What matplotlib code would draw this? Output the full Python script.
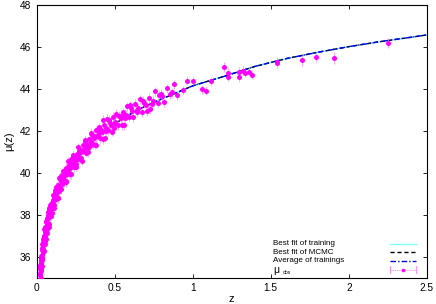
import matplotlib
matplotlib.use("Agg")
import matplotlib.pyplot as plt
from matplotlib.lines import Line2D

plt.rcParams['font.family'] = ['Liberation Sans', 'DejaVu Sans']

# ---- best-fit curves ----
z_fit = [0.01, 0.015, 0.02, 0.03, 0.05, 0.07, 0.1, 0.15, 0.2, 0.3, 0.4, 0.5,
         0.6, 0.7, 0.8, 0.9, 1.0, 1.2, 1.4, 1.6, 1.8, 2.0, 2.2, 2.4, 2.5]
mu_train = [33.35, 34.21, 34.85, 35.74, 36.89, 37.65, 38.45, 39.40, 40.08, 41.06, 41.78, 42.34,
            42.80, 43.19, 43.52, 43.83, 44.15, 44.60, 45.08, 45.45, 45.75, 46.02, 46.26, 46.47, 46.58]
mu_mcmc = [33.35, 34.21, 34.85, 35.74, 36.89, 37.65, 38.45, 39.40, 40.08, 41.06, 41.78, 42.34,
           42.80, 43.19, 43.52, 43.83, 44.15, 44.60, 45.08, 45.45, 45.75, 46.02, 46.26, 46.47, 46.58]
mu_avg = [33.35, 34.21, 34.85, 35.74, 36.89, 37.65, 38.45, 39.40, 40.08, 41.06, 41.78, 42.34,
          42.80, 43.19, 43.52, 43.83, 44.15, 44.60, 45.08, 45.45, 45.75, 46.02, 46.26, 46.47, 46.58]

# ---- observed distance moduli (dense low-z sample) ----
z_obs_a = [0.014, 0.016, 0.018, 0.019, 0.020, 0.021, 0.022, 0.023, 0.024, 0.025,
           0.026, 0.027, 0.028, 0.029, 0.030, 0.031, 0.032, 0.033, 0.034, 0.035,
           0.036, 0.037, 0.038, 0.040, 0.041, 0.042, 0.044, 0.045, 0.047, 0.048,
           0.050, 0.051, 0.053, 0.055, 0.056, 0.058, 0.060, 0.062, 0.064, 0.066,
           0.068, 0.070, 0.072, 0.074, 0.076, 0.078, 0.080, 0.083, 0.085, 0.088,
           0.090, 0.093, 0.096, 0.100, 0.103, 0.106, 0.110, 0.113, 0.116, 0.120,
           0.123, 0.127, 0.130, 0.134, 0.138, 0.142, 0.146, 0.150, 0.154, 0.158,
           0.162, 0.166, 0.170, 0.175, 0.180, 0.185, 0.190, 0.195, 0.200, 0.205,
           0.210, 0.215, 0.220, 0.226, 0.232, 0.238, 0.244, 0.250, 0.256, 0.262,
           0.268, 0.274, 0.280, 0.287, 0.294, 0.300, 0.307, 0.314, 0.321, 0.328,
           0.335, 0.342, 0.350, 0.358, 0.366, 0.374, 0.382, 0.390, 0.398, 0.406,
           0.415, 0.424, 0.433, 0.442, 0.451, 0.460, 0.470, 0.480, 0.490, 0.500,
           0.510, 0.520, 0.532, 0.544, 0.556, 0.568, 0.580, 0.592, 0.605, 0.618,
           0.632, 0.646, 0.660, 0.675, 0.690, 0.705, 0.720, 0.738, 0.756, 0.775,
           0.795, 0.815, 0.835, 0.856, 0.878, 0.900]
mu_obs_a = [34.44, 34.11, 34.69, 34.35, 35.10, 34.87, 35.48, 34.94, 35.39, 35.00,
            35.73, 35.48, 35.95, 35.41, 35.85, 35.43, 36.09, 35.84, 36.41, 35.92,
            36.32, 35.90, 36.55, 36.33, 36.82, 36.22, 36.68, 36.29, 36.97, 36.66,
            37.30, 36.73, 37.17, 36.78, 37.43, 37.18, 37.65, 37.13, 37.54, 37.13,
            37.82, 37.55, 38.14, 37.60, 37.97, 37.55, 38.27, 38.03, 38.45, 37.92,
            38.34, 37.94, 38.57, 38.33, 38.92, 38.42, 38.86, 38.44, 39.09, 38.84,
            39.33, 38.76, 39.17, 38.80, 39.44, 39.15, 39.77, 39.22, 39.63, 39.22,
            39.89, 39.62, 40.07, 39.55, 39.96, 39.54, 40.23, 39.95, 40.54, 39.99,
            40.35, 39.94, 40.66, 40.40, 40.83, 40.28, 40.71, 40.30, 40.92, 40.65,
            41.22, 40.72, 41.11, 40.69, 41.34, 41.05, 41.55, 40.95, 41.36, 40.97,
            41.61, 41.30, 41.91, 41.36, 41.77, 41.35, 42.02, 41.74, 42.18, 41.64,
            42.04, 41.61, 42.29, 42.00, 42.58, 42.02, 42.38, 41.96, 42.68, 42.40,
            42.82, 42.26, 42.67, 42.26, 42.88, 42.61, 43.18, 42.67, 43.07, 42.64,
            43.29, 43.00, 43.50, 42.90, 43.31, 42.94, 43.57, 43.28, 43.89, 43.35,
            43.76, 43.36, 44.03, 43.75, 44.22, 43.69]
z_obs_b = [0.0205, 0.0235, 0.0265, 0.0295, 0.0325, 0.039, 0.043, 0.046, 0.049, 0.052,
           0.057, 0.061, 0.065, 0.069, 0.075, 0.082, 0.087, 0.095, 0.102, 0.108,
           0.115, 0.125, 0.136, 0.148, 0.160, 0.172, 0.183, 0.198, 0.212, 0.229,
           0.247, 0.265, 0.284, 0.304, 0.325, 0.346, 0.370, 0.394, 0.420, 0.427,
           0.447, 0.475, 0.505, 0.538, 0.553, 0.575, 0.612, 0.652, 0.698, 0.745,
           0.805, 0.868]
mu_obs_b = [34.87, 35.23, 35.45, 35.70, 35.94, 36.32, 36.55, 36.71, 36.83, 37.00,
            37.18, 37.33, 37.48, 37.62, 37.83, 38.01, 38.15, 38.34, 38.51, 38.65,
            38.79, 39.01, 39.19, 39.39, 39.58, 39.75, 39.90, 40.08, 40.25, 40.45,
            40.63, 40.81, 40.97, 41.15, 41.31, 41.47, 41.65, 41.81, 41.97, 42.52,
            42.12, 42.28, 42.43, 42.60, 42.75, 42.77, 42.93, 43.09, 43.25, 43.45,
            43.65, 43.84]
z_obs_d = [0.0215, 0.0245, 0.0275, 0.031, 0.034, 0.0375, 0.0425, 0.0465, 0.0515, 0.0545,
           0.059, 0.063, 0.067, 0.071, 0.077, 0.081, 0.086, 0.092, 0.098, 0.105,
           0.112, 0.118, 0.128, 0.133, 0.140, 0.152, 0.164, 0.177, 0.188, 0.202,
           0.218, 0.235, 0.253, 0.271, 0.290, 0.310, 0.331, 0.355, 0.378, 0.402,
           0.438, 0.465, 0.495, 0.525, 0.562, 0.598, 0.640, 0.683, 0.728, 0.785]
mu_obs_d = [34.61, 35.60, 35.30, 36.01, 35.57, 36.59, 36.37, 36.98, 36.60, 37.23,
            36.86, 37.71, 37.30, 37.88, 37.42, 38.33, 37.97, 38.53, 38.07, 38.72,
            38.33, 39.16, 38.80, 39.34, 38.81, 39.80, 39.48, 40.07, 39.61, 40.28,
            39.92, 40.81, 40.44, 41.06, 40.58, 41.54, 41.20, 41.79, 41.35, 42.00,
            41.67, 42.52, 42.13, 42.73, 42.26, 43.22, 42.89, 43.45, 43.03, 43.73]
err_dense = 0.22

# ---- sparse high-z sample ----
z_obs_c = [0.940, 0.965, 1.000, 1.057, 1.085, 1.115, 1.200, 1.223, 1.223, 1.298,
           1.298, 1.320, 1.334, 1.362, 1.383, 1.537, 1.543, 1.697, 1.793, 1.906,
           2.254]
mu_obs_c = [43.95, 44.40, 44.39, 43.99, 43.92, 44.39, 45.04, 44.78, 44.59, 44.83,
            44.56, 44.88, 44.75, 44.82, 44.67, 45.23, 45.31, 45.36, 45.52, 45.47,
            46.18]
err_obs_c = [0.18, 0.20, 0.20, 0.22, 0.20, 0.20, 0.25, 0.20, 0.22, 0.20,
             0.22, 0.20, 0.20, 0.20, 0.20, 0.25, 0.22, 0.25, 0.22, 0.28,
             0.24]

legend_labels = ["Best fit of training", "Best fit of MCMC", "Average of trainings", "μ"]
legend_sub = "obs"

MAG = "#ff00ff"
ERRC = "#ff80ff"

fig = plt.figure(figsize=(4.36, 3.04), dpi=100)
ax = fig.add_axes([0.084, 0.087, 0.895, 0.896])

ax.plot(z_fit, mu_train, color="#80ffff", lw=1.0, zorder=2)
ax.plot(z_fit, mu_mcmc, color="black", lw=1.0, ls=(0, (3, 2)), zorder=3)
ax.plot(z_fit, mu_avg, color="#0000ff", lw=1.0, ls=(0, (4, 1.5, 1, 1.5)), zorder=4)

ekw = dict(fmt="o", color=MAG, ms=3.6, ecolor=ERRC, elinewidth=0.5, capsize=1.6,
           capthick=0.5, zorder=5, mew=0)
ax.errorbar(z_obs_a, mu_obs_a, yerr=err_dense, **ekw)
ax.errorbar(z_obs_b, mu_obs_b, yerr=err_dense, **ekw)
ax.errorbar(z_obs_d, mu_obs_d, yerr=err_dense, **ekw)
ax.errorbar(z_obs_c, mu_obs_c, yerr=err_obs_c, **ekw)

ax.set_xlim(0, 2.5)
ax.set_ylim(35, 48)
ax.set_xticks([0, 0.5, 1, 1.5, 2, 2.5])
ax.set_xticklabels(["0", "0.5", "1", "1.5", "2", "2.5"])
ax.set_yticks([36, 38, 40, 42, 44, 46, 48])
ax.tick_params(direction="in", top=True, right=True, length=3, width=0.6,
               labelsize=7.3, pad=4)
for s in ax.spines.values():
    s.set_linewidth(0.8)

ax.set_xlabel("z", fontsize=8, labelpad=1)
ax.set_ylabel("μ(z)", fontsize=8, labelpad=4)

# manual gnuplot-style key
tx = 0.6055
x0, x1 = 0.905, 0.972
rows = [0.125, 0.093, 0.061, 0.029]
styles = [dict(color="#80ffff", lw=1.0, ls="-"),
          dict(color="black", lw=1.0, ls=(0, (3, 2))),
          dict(color="#0000ff", lw=1.0, ls=(0, (4, 1.5, 1, 1.5)))]
for i, lab in enumerate(legend_labels):
    ax.text(tx, rows[i], lab, transform=ax.transAxes,
            fontsize=5.8 if i < 3 else 7.5, va="center", ha="left")
    if i < 3:
        ax.add_line(Line2D([x0, x1], [rows[i], rows[i]], transform=ax.transAxes, **styles[i]))
    else:
        ax.text(tx + 0.026, rows[i] - 0.012, legend_sub, transform=ax.transAxes,
                fontsize=3.6, va="center", ha="left")
        ax.add_line(Line2D([x0, x1], [rows[i], rows[i]], transform=ax.transAxes,
                           color=ERRC, lw=0.6, ls=(0, (1.5, 1))))
        for xc in (x0, x1):
            ax.add_line(Line2D([xc, xc], [rows[i] - 0.012, rows[i] + 0.012],
                               transform=ax.transAxes, color=ERRC, lw=0.6))
        ax.add_line(Line2D([(x0 + x1) / 2], [rows[i]], transform=ax.transAxes,
                           marker="o", ms=2.6, color=MAG, mew=0))

fig.savefig("out.png", dpi=100)
